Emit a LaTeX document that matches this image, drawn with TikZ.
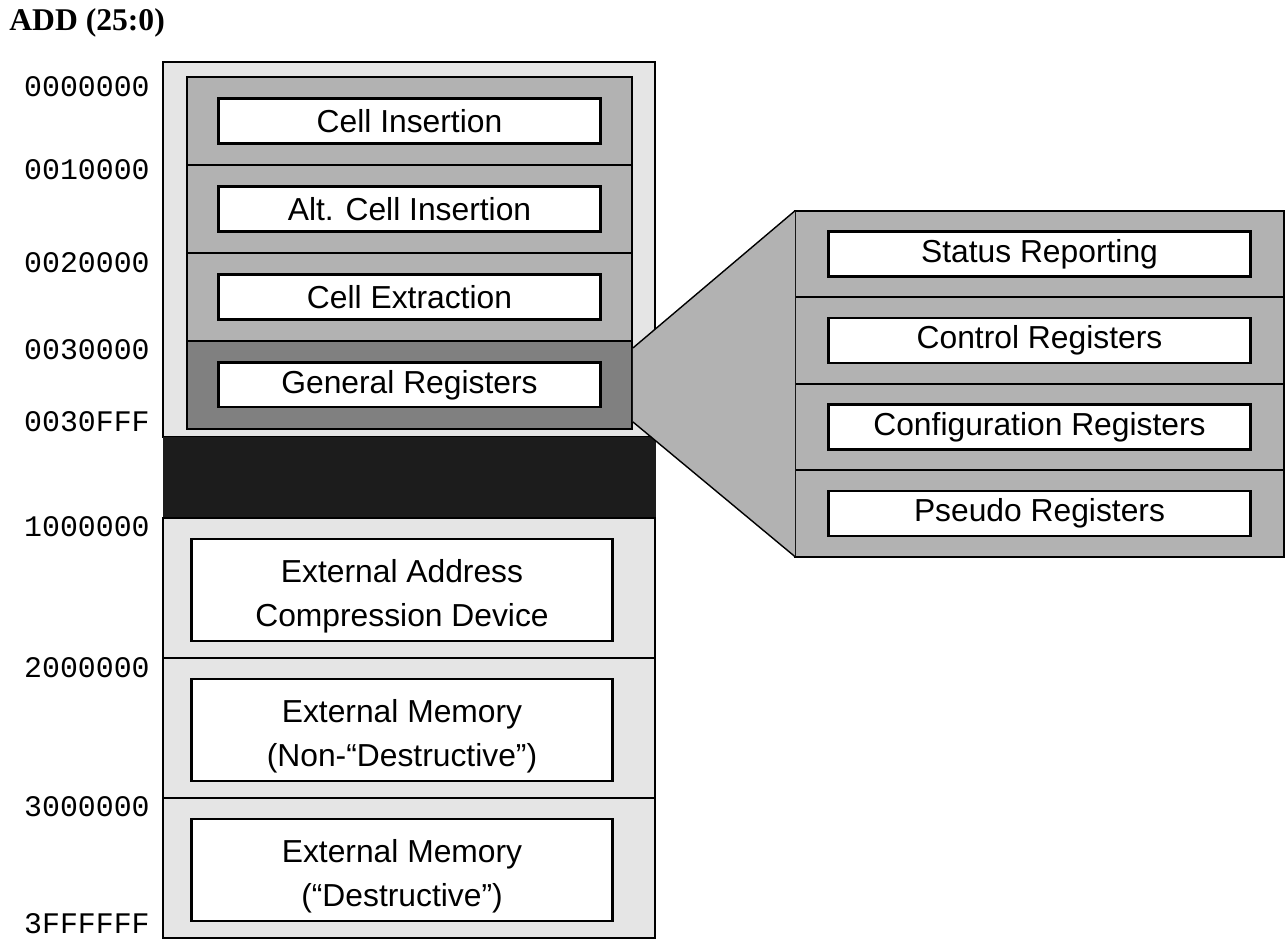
\documentclass[tikz,border=0pt]{standalone}
\usepackage{fontspec}
\setmainfont{Liberation Serif}
\setsansfont{Liberation Sans}
\setmonofont{Liberation Mono}
\usepackage{tikz}
\usetikzlibrary{positioning,calc}
\definecolor{mmlight}{RGB}{229,229,229}
\definecolor{mmmid}{RGB}{178,178,178}
\definecolor{mmdark}{RGB}{128,128,128}
\definecolor{mmblack}{RGB}{28,28,28}
\tikzstyle{region} = [rectangle, draw=black, line width=1.2pt, fill=mmmid, minimum width=8.9cm, minimum height=1.76cm, inner sep=0pt, outer sep=0pt]
\tikzstyle{regrow} = [region, minimum width=9.78cm, minimum height=1.73cm]
\tikzstyle{labelbox} = [rectangle, draw=black, line width=1.2pt, fill=white, minimum width=7.64cm, minimum height=0.9cm, text centered, align=center, inner sep=0pt, font=\sffamily\fontsize{18.1}{25}\selectfont]
\tikzstyle{extbox} = [labelbox, minimum width=8.42cm, minimum height=2.04cm]
\tikzstyle{exttext} = [align=center, inner sep=0pt, font=\sffamily\fontsize{18.1}{25}\selectfont]
\tikzstyle{extregion} = [rectangle, draw=black, line width=0.8pt, fill=mmlight, minimum width=9.84cm, minimum height=2.8cm, inner sep=0pt, outer sep=0pt]
\tikzstyle{addr} = [anchor=east, inner sep=0pt, font=\ttfamily\fontsize{17}{20}\selectfont]

\begin{document}
\begin{tikzpicture}[x=0.02cm, y=-0.02cm]
\useasboundingbox (0,0) rectangle (1286,939);

% Title
\node[anchor=west, inner sep=0pt, font=\bfseries\fontsize{18}{22}\selectfont] (title) at (9,23) {ADD (25:0)};

% Internal address space
\node[rectangle, draw=black, line width=0.8pt, fill=mmlight, minimum width=9.84cm, minimum height=7.5cm, inner sep=0pt] (upper) at (409,249.5) {};
\node[rectangle, draw=mmblack, fill=mmblack, minimum width=9.84cm, minimum height=1.62cm, inner sep=0pt] (gap) at (409,477.5) {};

% External blocks
\node[extregion] (ext1) at (409,588) {};
\node[extregion, below=0pt of ext1] (ext2) {};
\node[extregion, below=0pt of ext2] (ext3) {};
\node[extbox] (extaddr) at ($(ext1.center)+(-7,2)$) {};
\node[extbox] (extnd) at ($(ext2.center)+(-7,2)$) {};
\node[extbox] (extd) at ($(ext3.center)+(-7,2)$) {};
\node[exttext] (extaddrtxt) at ($(extaddr.center)+(0,6)$) {External Address\\Compression Device};
\node[exttext] (extndtxt) at ($(extnd.center)+(0,6)$) {External Memory\\(Non-“Destructive”)};
\node[exttext] (extdtxt) at ($(extd.center)+(0,6)$) {External Memory\\(“Destructive”)};

% Register blocks
\node[region] (sec1) at (409.5,121) {};
\node[region, below=0pt of sec1] (sec2) {};
\node[region, below=0pt of sec2] (sec3) {};
\node[region, below=0pt of sec3, fill=mmdark] (genreg) {};
\node[labelbox] (cellins) at (sec1) {Cell Insertion};
\node[labelbox] (altins) at (sec2) {Alt. Cell Insertion};
\node[labelbox] (cellext) at (sec3) {Cell Extraction};
\node[labelbox] (genlbl) at (genreg) {General Registers};

% General registers detail
\node[regrow] (stat) at (1039.5,254) {};
\node[regrow, below=0pt of stat] (ctrl) {};
\node[regrow, below=0pt of ctrl] (conf) {};
\node[regrow, below=0pt of conf] (pseudo) {};
\node[labelbox, minimum width=8.44cm] (statlbl) at (stat) {Status Reporting};
\node[labelbox, minimum width=8.44cm] (ctrllbl) at (ctrl) {Control Registers};
\node[labelbox, minimum width=8.44cm] (conflbl) at (conf) {Configuration Registers};
\node[labelbox, minimum width=8.44cm] (pseudolbl) at (pseudo) {Pseudo Registers};

% Zoom fan
\fill[mmmid] ($(genreg.east)+(1,-37)$) -- (stat.north west) -- (pseudo.south west) -- ($(genreg.east)+(1,37)$) -- cycle;
\draw[line width=0.8pt] ($(genreg.east)+(1,-37)$) -- (stat.north west);
\draw[line width=0.8pt] ($(genreg.east)+(1,37)$) -- (pseudo.south west);

% Addresses
\foreach \addr/\ypos in {0000000/87, 0010000/170, 0020000/263, 0030000/350, 0030FFF/422, 1000000/527, 2000000/668, 3000000/807, 3FFFFFF/924}
  \node[addr] (a\ypos) at (150,\ypos) {\addr};
\end{tikzpicture}
\end{document}
